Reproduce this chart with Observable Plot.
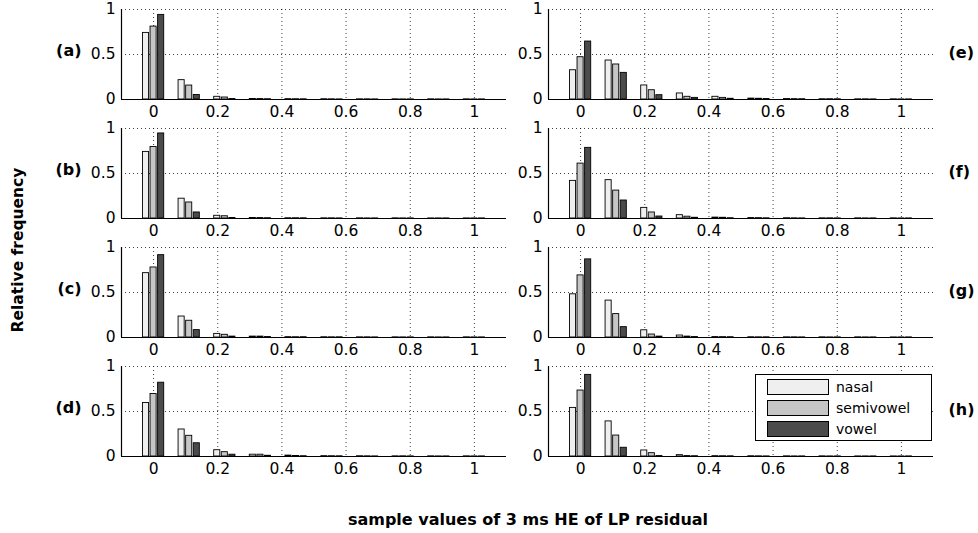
<!DOCTYPE html>
<html><head><meta charset="utf-8">
<script src="https://cdn.jsdelivr.net/npm/d3@7"></script>
<script src="https://cdn.jsdelivr.net/npm/@observablehq/plot@0.6"></script>
<style>
body{margin:0;background:#fff;font-family:"DejaVu Sans",sans-serif;}
#chart{position:relative;width:978px;height:533px;overflow:hidden;}
.panel{position:absolute;}
.ylab{position:absolute;left:18px;top:250px;transform:translate(-50%,-50%) rotate(-90deg);font-weight:bold;font-size:15.5px;white-space:nowrap;}
.xlab{position:absolute;left:528px;top:519px;transform:translate(-50%,-50%);font-weight:bold;font-size:16px;white-space:nowrap;}
.legend{position:absolute;left:755px;top:374px;width:175px;height:65px;border:1px solid #000;background:#fff;}
.sw{position:absolute;left:11px;width:60px;height:14px;border:1px solid #000;}
.lt{position:absolute;left:80px;font-size:14px;line-height:16px;}
</style></head><body><div id="chart"></div>
<script>
const binCenters = [0, 0.111, 0.222, 0.333, 0.444, 0.556, 0.667, 0.778, 0.889, 1];
const categories = ["nasal", "semivowel", "vowel"];
const colors = ["#efefef", "#c6c6c6", "#4b4b4b"];
const panelLabels = ["(a)", "(b)", "(c)", "(d)", "(e)", "(f)", "(g)", "(h)"];
const xTicks = [0, 0.2, 0.4, 0.6, 0.8, 1];
const yTicks = [0, 0.5, 1];
const xLabel = "sample values of 3 ms HE of LP residual";
const yLabel = "Relative frequency";

const nasal = [
  [0.74, 0.215, 0.03, 0.006, 0.004, 0.003, 0.002, 0.002, 0.002, 0.002],
  [0.74, 0.22, 0.03, 0.006, 0.003, 0.002, 0.002, 0.002, 0.001, 0.001],
  [0.715, 0.233, 0.04, 0.01, 0.004, 0.003, 0.002, 0.002, 0.002, 0.002],
  [0.595, 0.30, 0.07, 0.02, 0.01, 0.004, 0.003, 0.002, 0.002, 0.002],
  [0.325, 0.433, 0.156, 0.067, 0.03, 0.01, 0.005, 0.003, 0.002, 0.002],
  [0.418, 0.426, 0.118, 0.037, 0.01, 0.005, 0.003, 0.002, 0.002, 0.002],
  [0.48, 0.41, 0.08, 0.022, 0.005, 0.003, 0.002, 0.002, 0.002, 0.001],
  [0.54, 0.39, 0.067, 0.015, 0.004, 0.003, 0.002, 0.002, 0.001, 0.001]
];
const semivowel = [
  [0.81, 0.155, 0.022, 0.005, 0.003, 0.002, 0.002, 0.001, 0.001, 0.001],
  [0.795, 0.178, 0.025, 0.005, 0.003, 0.002, 0.001, 0.001, 0.001, 0.001],
  [0.778, 0.186, 0.03, 0.01, 0.003, 0.002, 0.002, 0.001, 0.001, 0.001],
  [0.694, 0.23, 0.048, 0.02, 0.006, 0.003, 0.002, 0.002, 0.001, 0.001],
  [0.47, 0.389, 0.103, 0.03, 0.018, 0.008, 0.004, 0.003, 0.002, 0.001],
  [0.61, 0.31, 0.067, 0.02, 0.008, 0.004, 0.002, 0.002, 0.001, 0.001],
  [0.69, 0.26, 0.033, 0.01, 0.004, 0.002, 0.002, 0.001, 0.001, 0.001],
  [0.733, 0.233, 0.037, 0.005, 0.003, 0.002, 0.001, 0.001, 0.001, 0.001]
];
const vowel = [
  [0.94, 0.05, 0.005, 0.003, 0.002, 0.001, 0.001, 0.001, 0.001, 0.001],
  [0.945, 0.067, 0.006, 0.003, 0.002, 0.001, 0.001, 0.001, 0.001, 0.001],
  [0.915, 0.082, 0.01, 0.005, 0.003, 0.002, 0.001, 0.001, 0.001, 0.001],
  [0.82, 0.147, 0.02, 0.008, 0.003, 0.002, 0.001, 0.001, 0.001, 0.001],
  [0.644, 0.296, 0.048, 0.018, 0.008, 0.005, 0.003, 0.002, 0.001, 0.001],
  [0.785, 0.2, 0.022, 0.008, 0.003, 0.002, 0.001, 0.001, 0.001, 0.001],
  [0.868, 0.115, 0.01, 0.005, 0.003, 0.002, 0.001, 0.001, 0.001, 0.001],
  [0.907, 0.097, 0.005, 0.003, 0.002, 0.001, 0.001, 0.001, 0.001, 0.001]
];

const series = [nasal, semivowel, vowel];
const pitch = 0.0236, barW = 0.019;
const chart = document.getElementById("chart");

panelLabels.forEach((lab, p) => {
  const col = p < 4 ? 0 : 1, row = p % 4;
  const rows = [];
  categories.forEach((c, ci) => {
    series[ci][p].forEach((v, b) => {
      const cx = binCenters[b] + (ci - 1) * pitch;
      rows.push({cat: c, x1: cx - barW / 2, x2: cx + barW / 2, value: v});
    });
  });
  const width = col === 0 ? 520 : 551;
  const marginRight = col === 0 ? 14 : 45;
  const svg = Plot.plot({
    width, height: 119,
    marginLeft: 121, marginRight, marginTop: 9, marginBottom: 20,
    style: {fontFamily: '"DejaVu Sans", sans-serif', fontSize: "15px", background: "transparent", overflow: "visible"},
    x: {domain: [-0.1, 1.1], axis: null},
    y: {domain: [0, 1], axis: null},
    color: {domain: categories, range: colors},
    marks: [
      Plot.gridX(xTicks, {stroke: "#000", strokeOpacity: 0.75, strokeDasharray: "1,3", strokeWidth: 1}),
      Plot.gridY([0.5, 1], {stroke: "#000", strokeOpacity: 0.75, strokeDasharray: "1,3", strokeWidth: 1}),
      Plot.rectY(rows, {x1: "x1", x2: "x2", y: "value", fill: "cat", stroke: "#000", strokeWidth: 0.9}),
      Plot.ruleY([0], {stroke: "#000", strokeWidth: 1.2}),
      Plot.ruleX([-0.1], {stroke: "#000", strokeWidth: 1.2}),
      Plot.axisX({ticks: xTicks, tickSize: 0, tickPadding: 6, fontSize: 15.5, tickFormat: d => String(d), label: null}),
      Plot.axisY({ticks: yTicks, tickSize: 0, tickPadding: 6, fontSize: 15.5, tickFormat: d => String(d), label: null}),
      Plot.text([lab], col === 0
        ? {text: d => d, frameAnchor: "left", dx: -40, dy: -4, textAnchor: "end", fontWeight: "bold", fontSize: 16}
        : {text: d => d, frameAnchor: "right", dx: 15, dy: -2, textAnchor: "start", fontWeight: "bold", fontSize: 16})
    ]
  });
  svg.classList.add("panel");
  svg.style.left = (col === 0 ? 0 : 427) + "px";
  svg.style.top = (row * 119) + "px";
  chart.appendChild(svg);
});

const yl = document.createElement("div"); yl.className = "ylab"; yl.textContent = yLabel; chart.appendChild(yl);
const xl = document.createElement("div"); xl.className = "xlab"; xl.textContent = xLabel; chart.appendChild(xl);

const leg = document.createElement("div"); leg.className = "legend";
categories.forEach((c, i) => {
  const sw = document.createElement("div"); sw.className = "sw";
  sw.style.top = (4 + i * 21) + "px"; sw.style.background = colors[i];
  const t = document.createElement("div"); t.className = "lt";
  t.style.top = (4 + i * 21) + "px"; t.textContent = c;
  leg.appendChild(sw); leg.appendChild(t);
});
chart.appendChild(leg);
</script>
</body></html>
